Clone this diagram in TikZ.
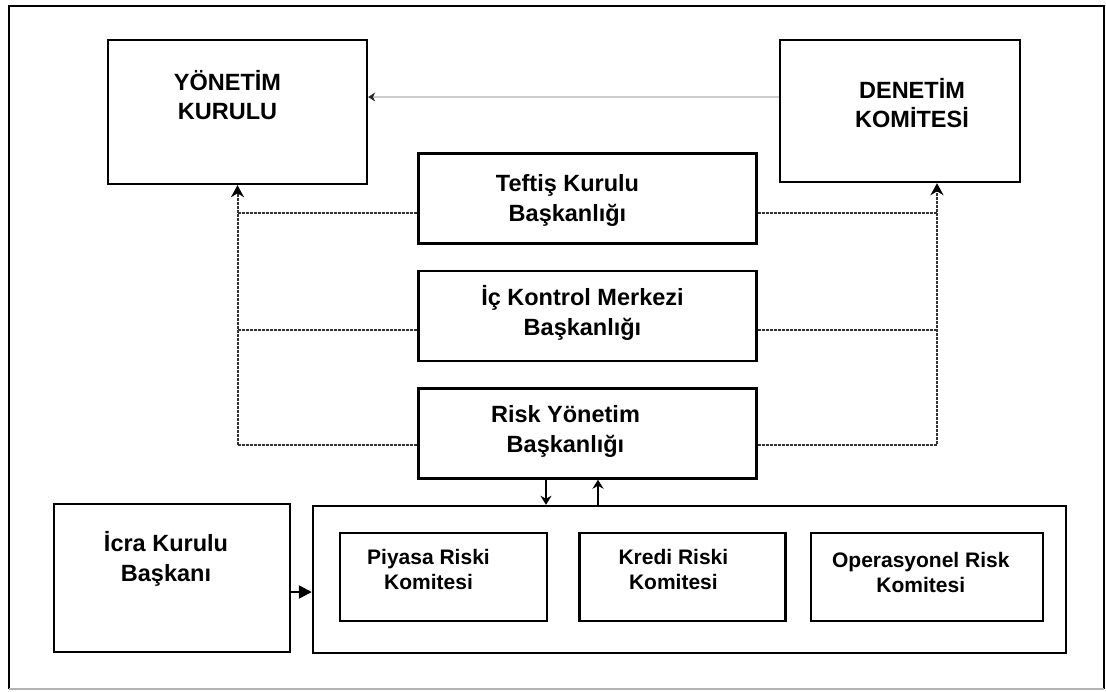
\documentclass[tikz,border=0pt]{standalone}
\usepackage{fontspec}
\setmainfont{Liberation Sans}
\usetikzlibrary{arrows.meta,positioning}

\begin{document}
\begin{tikzpicture}[x=1pt,y=-1pt,>={Stealth[length=11pt,width=13pt]},node distance=117.5pt,
  kutu/.style={draw,line width=2.4pt,inner sep=0pt},
  orta/.style={kutu,minimum width=338pt,minimum height=90pt},
  komite/.style={kutu,minimum height=88pt},
  yazi/.style={align=center,font=\bfseries\fontsize{23.5}{29.5}\selectfont},
  kyazi/.style={align=center,font=\bfseries\fontsize{21}{25}\selectfont},
  nokta/.style={line width=2pt,black!80,dash pattern=on 3pt off 1pt},
  nokta ok/.style={nokta,-{Stealth[length=12pt,width=13pt,color=black]}},
  gri/.style={line width=1.6pt,black!20,-{Stealth[length=7pt,width=9pt,color=black!85]}},
  ok/.style={line width=1.5pt,-{Stealth[length=9pt,width=11pt]}}]

            \useasboundingbox (0,0) rectangle (1106,691);
            \draw[line width=2.6pt] (9,689) -- (9,6) -- (1104,6) -- (1104,689);
            \draw[line width=1.2pt,black!30] (9,689) -- (1104,689);

            \node[kutu, minimum width=259pt, minimum height=144pt] (yk) at (237.5,112) {};
            \node[kutu, minimum width=240pt, minimum height=142pt] (dk) at (900,111) {};
            \node[orta] (teftis) at (587.5,198.5) {};
            \node[orta] (ic) [below of = teftis] {};
            \node[orta] (risk) [below of = ic] {};
            \node[kutu, minimum width=236pt, minimum height=148pt] (icra) at (172,578) {};
            \node[kutu, minimum width=753pt, minimum height=147pt] (kom) at (689.5,579.5) {};
            \node[komite, minimum width=207pt] (piyasa) at (443.5,577) {};
            \node[komite, minimum width=206pt] (kredi) [right=30pt of piyasa] {};
            \node[komite, minimum width=232pt] (operasyonel) [right=23pt of kredi] {};

            \node[yazi] (yk-t) at ([xshift=-10pt,yshift=17pt]yk) {YÖNETİM\\KURULU};
            \node[yazi] (dk-t) at ([xshift=12pt,yshift=8pt]dk) {DENETİM\\KOMİTESİ};
            \node[yazi] (teftis-t) at ([xshift=-20pt,yshift=-2pt]teftis) {Teftiş Kurulu\\Başkanlığı};
            \node[yazi] (ic-t) at ([xshift=-5pt,yshift=3pt]ic) {İç Kontrol Merkezi\\Başkanlığı};
            \node[yazi] (risk-t) at ([xshift=-22pt,yshift=2pt]risk) {Risk Yönetim\\Başkanlığı};
            \node[yazi] (icra-t) at ([xshift=-6pt,yshift=19pt]icra) {İcra Kurulu\\Başkanı};
            \node[kyazi] (piyasa-t) at ([xshift=-15pt,yshift=8pt]piyasa) {Piyasa Riski\\Komitesi};
            \node[kyazi] (kredi-t) at ([xshift=-9pt,yshift=8pt]kredi) {Kredi Riski\\Komitesi};
            \node[kyazi] (operasyonel-t) at ([xshift=-6pt,yshift=5pt]operasyonel) {Operasyonel Risk\\Komitesi};

            \coordinate (dk-alt) at ([xshift=37pt]dk.south);

            \draw[gri] ([yshift=14pt]dk.west) -- ([yshift=14pt]dk.west -| yk.east);

            \draw[nokta ok] ([yshift=-11.5pt]risk.west) -| (yk.south);
            \draw[nokta] ([yshift=-14pt]ic.west) -- ([yshift=-14pt]ic.west -| yk.south);
            \draw[nokta] ([yshift=-14.5pt]teftis.west) -- ([yshift=-14.5pt]teftis.west -| yk.south);
            \draw[nokta ok] ([yshift=-11.5pt]risk.east) -| (dk-alt);
            \draw[nokta] ([yshift=-14pt]ic.east) -- ([yshift=-14pt]ic.east -| dk-alt);
            \draw[nokta] ([yshift=-14.5pt]teftis.east) -- ([yshift=-14.5pt]teftis.east -| dk-alt);

            \draw[ok] ([xshift=-41.5pt]risk.south) -- ([xshift=-41.5pt]risk.south |- kom.north);
            \draw[ok] ([xshift=10.5pt]risk.south |- kom.north) -- ([xshift=10.5pt]risk.south);

            \draw[line width=2.4pt,-{Triangle[length=13pt,width=13pt]}] ([yshift=-14pt]icra.east) -- ([yshift=-14pt]icra.east -| kom.west);

            ;
        \end{tikzpicture}
\end{document}
